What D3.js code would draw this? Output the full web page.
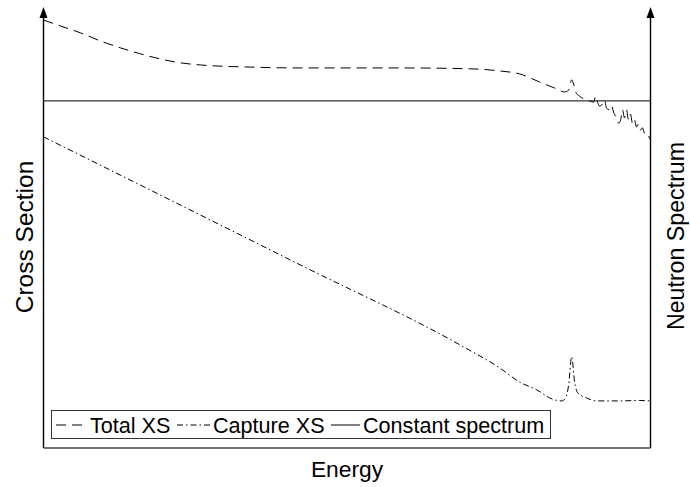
<!DOCTYPE html>
<html><head><meta charset="utf-8">
<script src="https://cdn.jsdelivr.net/npm/d3@7"></script>
<style>body{margin:0;background:#fff}svg{display:block}</style>
</head><body>
<svg id="c" width="690" height="487"></svg>
<script>
// Energy (relative, log-scaled position 0..100) and cross sections (relative units)
const totalX = [0,2.8,6.09,9.38,12.66,15.95,19.24,22.53,25.82,34.05,42.27,58.72,70.23,75.16,78.45,81.74,84.21,85.86,86.51,87.01,87.34,87.66,88.32,89.14,89.97,90.63,90.95,91.28,91.61,92.11,92.43,92.76,93.26,93.59,93.91,94.41,94.74,95.07,95.39,95.72,96.05,96.38,96.71,97.04,97.37,97.7,98.03,98.36,98.68,99.01,99.34,99.84,100];
const totalY = [100,98.6,97.0,95.1,93.5,92.1,90.9,90.0,89.5,89.0,88.8,88.8,88.6,88.1,87.4,85.5,84.1,83.2,83.6,86.0,85.0,83.2,82.2,81.5,81.1,80.8,82.2,80.8,79.9,80.4,81.3,79.4,79.0,79.9,78.5,77.1,75.9,76.6,79.0,77.1,79.0,76.6,78.0,75.7,76.6,75.0,75.7,74.3,74.8,73.6,73.8,72.4,72.0];
const captureX = [0,42.27,68.59,75.16,78.45,81.25,83.88,85.36,86.02,86.51,87.01,87.5,88.0,89.47,91.12,94.9,98.19,100];
const captureY = [72.7,42.8,24.1,18.7,15.4,13.6,11.4,11.0,11.7,14.7,21.3,15.4,12.9,11.7,11.0,11.0,11.1,11.0];
const spectrumX = [0,100];
const spectrumY = [81.1,81.1];
const seriesNames = ["Total XS","Capture XS","Constant spectrum"];
const axisTitles = {x:"Energy", yLeft:"Cross Section", yRight:"Neutron Spectrum"};

const svg = d3.select("#c");
const W=690,H=487;
const L=43.5,R=650.5,B=448,T=20;
const x = d3.scaleLinear().domain([0,100]).range([L,R]);
const y = d3.scaleLinear().domain([0,100]).range([B,T]);
const ySpec = d3.scaleLinear().domain([0,100]).range([B,T]);
const font = "'Liberation Sans', Arial, Helvetica, sans-serif";

svg.append("rect").attr("width",W).attr("height",H).attr("fill","#fff");

const line = (xs,ys,sc)=>d3.line().x((d,i)=>x(xs[i])).y((d,i)=>sc(ys[i])).curve(d3.curveMonotoneX)(xs);

const styles = [
  {dash:"10,6"},
  {dash:"6,3,1.5,3"},
  {dash:null}
];

svg.append("path").attr("d",line(totalX,totalY,y)).attr("fill","none").attr("stroke","#000").attr("stroke-width",1).attr("stroke-dasharray",styles[0].dash);
svg.append("path").attr("d",line(captureX,captureY,y)).attr("fill","none").attr("stroke","#000").attr("stroke-width",1).attr("stroke-dasharray",styles[1].dash);
svg.append("path").attr("d",d3.line().x((d,i)=>x(spectrumX[i])).y((d,i)=>ySpec(spectrumY[i]))(spectrumX)).attr("fill","none").attr("stroke","#000").attr("stroke-width",1);

// axes
const ax = svg.append("g").attr("stroke","#000").attr("stroke-width",1.4);
ax.append("line").attr("x1",L).attr("x2",L).attr("y1",B).attr("y2",12);
ax.append("line").attr("x1",R).attr("x2",R).attr("y1",B).attr("y2",12);
ax.append("line").attr("x1",L).attr("x2",R).attr("y1",B).attr("y2",B).attr("stroke","#444");
[L,R].forEach(px=>{
  svg.append("path").attr("d",`M${px},7 L${px-4},18 L${px+4},18 Z`).attr("fill","#000");
});

// legend
const lg = svg.append("g");
lg.append("rect").attr("x",51.5).attr("y",410.5).attr("width",499).attr("height",28).attr("fill","#fff").attr("stroke","#333").attr("stroke-width",1);
const items = [
  {x1:56,x2:86,tx:90},
  {x1:177,x2:210,tx:213},
  {x1:331,x2:360,tx:363}
];
items.forEach((it,i)=>{
  lg.append("line").attr("x1",it.x1).attr("x2",it.x2).attr("y1",425).attr("y2",425).attr("stroke","#000").attr("stroke-width",1).attr("stroke-dasharray",styles[i].dash);
  lg.append("text").attr("x",it.tx).attr("y",432.5).attr("font-family",font).attr("font-size",21.6).attr("fill","#000").text(seriesNames[i]);
});

// axis titles
svg.append("text").attr("x",(L+R)/2).attr("y",477).attr("text-anchor","middle").attr("font-family",font).attr("font-size",22.8).text(axisTitles.x);
svg.append("text").attr("transform","translate(33,237) rotate(-90)").attr("text-anchor","middle").attr("font-family",font).attr("font-size",24.5).text(axisTitles.yLeft);
svg.append("text").attr("transform","translate(684,236) rotate(-90)").attr("text-anchor","middle").attr("font-family",font).attr("font-size",23.2).text(axisTitles.yRight);
</script>
</body></html>
